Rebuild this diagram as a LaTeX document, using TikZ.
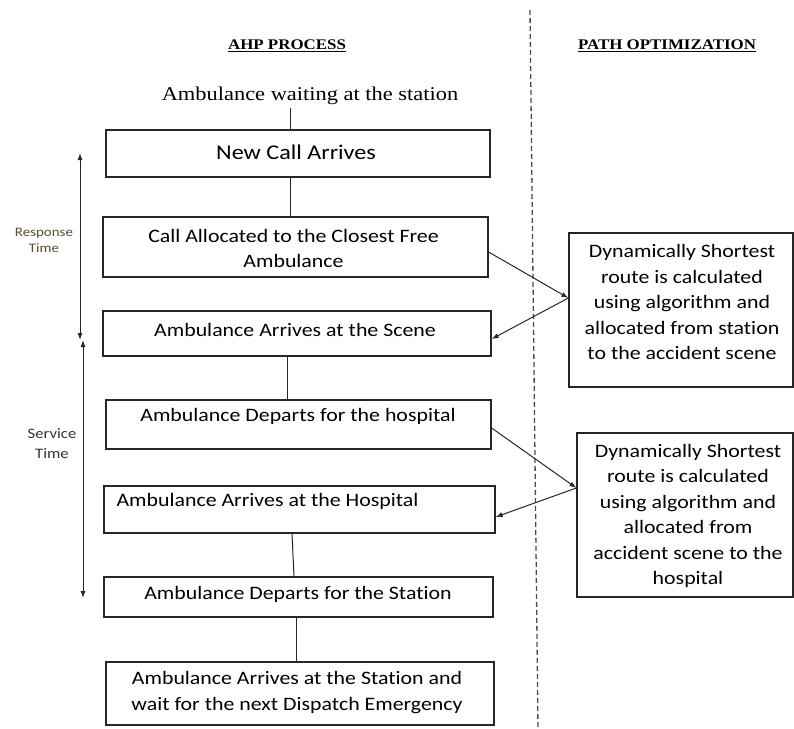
\documentclass[tikz,border=0pt]{standalone}
\usepackage{fontspec}
\setmainfont{Liberation Serif}[FakeStretch=1.15]
\newfontfamily\boxfont{Carlito}[FakeStretch=1.15, Ligatures=NoCommon]
\usetikzlibrary{arrows.meta,fit,calc}

\begin{document}
\begin{tikzpicture}[x=1bp,y=-1bp,
  stepbox/.style={draw=black!85, line width=1.2bp, inner sep=0pt},
  boxtext/.style={align=center, font=\boxfont\fontsize{19bp}{25.5bp}\selectfont},
  heading/.style={font=\bfseries\fontsize{14.7bp}{16bp}\selectfont},
  sidelabel/.style={align=center, text=black!60!brown!70!gray},
  link/.style={draw=black!85, line width=1bp},
  flow/.style={link, -{Latex[length=7bp,width=5bp]}},
  span/.style={link, {Latex[length=7bp,width=5bp]}-{Latex[length=7bp,width=5bp]}},
  divider/.style={draw=black!70, line width=1.3bp, dash pattern=on 5bp off 3bp}
]
\useasboundingbox (0,0) rectangle (794,729);

% column headings and separator
\node[heading] (hAHP) at (287,46) {\underline{AHP PROCESS}};
\node[heading] (hPath) at (667,46) {\underline{PATH OPTIMIZATION}};
\coordinate (divTop) at (530,10);
\coordinate (divBot) at (538,729);
\draw[divider] (divTop) -- (divBot);

% starting state
\node[font=\fontsize{19.5bp}{22bp}\selectfont] (wait) at (310,96) {Ambulance waiting at the station};

% process steps: frames
\node[stepbox, fit={(106,130)(490,177)}] (B1) {};
\node[stepbox, fit={(103,217)(488,277)}] (B2) {};
\node[stepbox, fit={(103,311)(491,356)}] (B3) {};
\node[stepbox, fit={(106,400)(491,449)}] (B4) {};
\node[stepbox, fit={(104,486)(495,533)}] (B5) {};
\node[stepbox, fit={(104,577)(493,617)}] (B6) {};
\node[stepbox, fit={(106,662)(494,725)}] (B7) {};

% process steps: texts
\node[boxtext, font=\boxfont\fontsize{21bp}{25bp}\selectfont] (B1t) at (296,152) {New Call Arrives};
\node[boxtext, font=\boxfont\fontsize{19bp}{25bp}\selectfont] (B2t) at (293.5,248) {Call Allocated to the Closest Free\\Ambulance};
\node[boxtext] (B3t) at (295,330) {Ambulance Arrives at the Scene};
\node[boxtext] (B4t) at (298,416) {Ambulance Departs for the hospital};
\node[boxtext, anchor=west] (B5t) at (113,501) {Ambulance Arrives at the Hospital};
\node[boxtext] (B6t) at (298,594) {Ambulance Departs for the Station};
\node[boxtext, font=\boxfont\fontsize{19bp}{26bp}\selectfont] (B7t) at (297,693) {Ambulance Arrives at the Station and\\wait for the next Dispatch Emergency};

% path optimisation boxes
\node[stepbox, fit={(569,233)(793,387)}] (R1) {};
\node[boxtext] (R1t) at (682,302) {Dynamically Shortest\\route is calculated\\using algorithm and\\allocated from station\\to the accident scene};
\node[stepbox, fit={(577,433)(793,597)}] (R2) {};
\node[boxtext] (R2t) at (688,516) {Dynamically Shortest\\route is calculated\\using algorithm and\\allocated from\\accident scene to the\\hospital};

% vertical links between steps
\draw[link] ($(wait.south)+(-20,0)$) -- ($(B1.north)+(-8,0)$);
\draw[link] ($(B1.south)+(-8,0)$) -- ($(B2.north)+(-5.5,0)$);
\draw[link] ($(B3.south)+(-10,0)$) -- ($(B4.north)+(-11.5,0)$);
\draw[link] ($(B5.south)+(-7.5,0)$) -- ($(B6.north)+(-4.5,0)$);
\draw[link] ($(B6.south)+(-2.5,0)$) -- ($(B7.north)+(-4,0)$);

% route computation arrows
\draw[flow] ([yshift=-5bp]B2.east) -- ([yshift=12bp]R1.west);
\draw[flow] ([yshift=12bp]R1.west) -- ([yshift=-5.5bp]B3.east);
\draw[flow] ([yshift=-3.5bp]B4.east) -- ([yshift=27bp]R2.west);
\draw[flow] ([yshift=27bp]R2.west) -- ([yshift=-7.5bp]B5.east);

% time spans
\coordinate (rtTop) at (80,153);
\coordinate (rtBot) at (80,340);
\coordinate (stTop) at (83,340);
\coordinate (stBot) at (83,598);
\draw[span] (rtTop) -- (rtBot);
\draw[span] (stTop) -- (stBot);
\node[sidelabel, font=\boxfont\fontsize{13bp}{16bp}\selectfont] (rtLabel) at (44,240) {Response\\Time};
\node[sidelabel, text=black!80, font=\boxfont\fontsize{14.5bp}{20bp}\selectfont] (stLabel) at (52,444) {Service\\Time};
\end{tikzpicture}
\end{document}
